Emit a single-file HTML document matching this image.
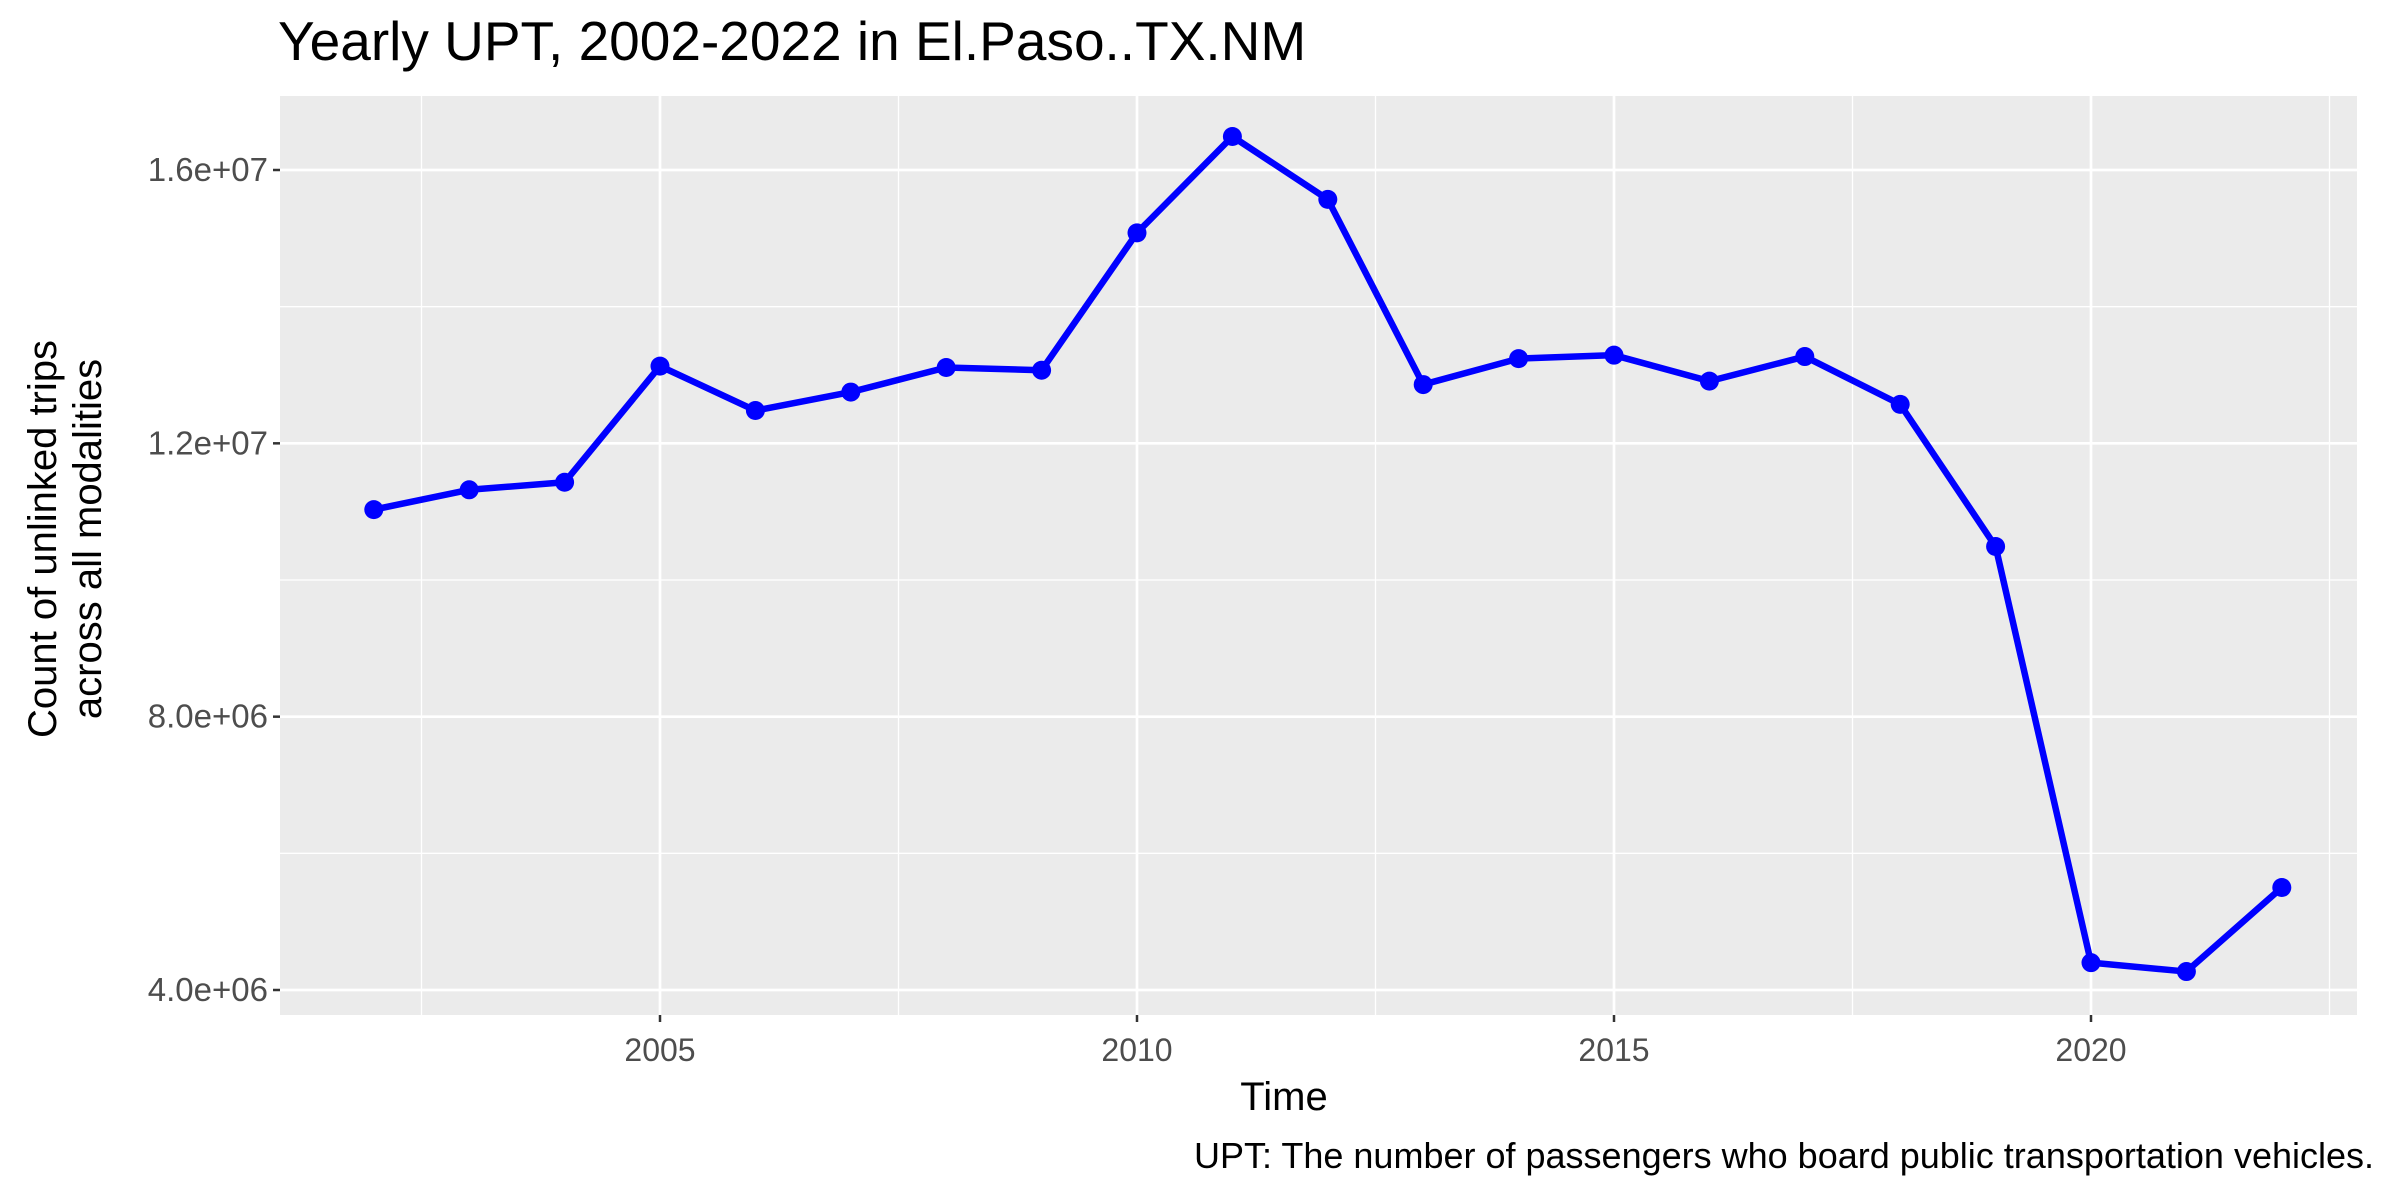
<!DOCTYPE html>
<html><head><meta charset="utf-8"><style>
html,body{margin:0;padding:0;background:#fff;}
svg{display:block;font-family:"Liberation Sans",Arial,sans-serif;}
</style></head><body>
<svg id="chart" width="2400" height="1200" viewBox="0 0 2400 1200">
<text x="278" y="60" font-size="55" fill="#000">Yearly UPT, 2002-2022 in El.Paso..TX.NM</text>
<rect x="280" y="96" width="2077" height="919" fill="#ebebeb"/>
<g id="grid"></g>
<g id="series"></g>
<g id="axes"></g>
<text x="1284" y="1110" font-size="40" text-anchor="middle" fill="#000">Time</text>
<text transform="translate(56,539) rotate(-90)" font-size="40" text-anchor="middle" fill="#000"><tspan x="0" dy="0">Count of unlinked trips</tspan><tspan x="0" dy="45">across all modalities</tspan></text>
<text x="2374" y="1168" font-size="36" text-anchor="end" fill="#000">UPT: The number of passengers who board public transportation vehicles.</text>
</svg>
<script>
const years=[2002,2003,2004,2005,2006,2007,2008,2009,2010,2011,2012,2013,2014,2015,2016,2017,2018,2019,2020,2021,2022];
const upt=[11.03e6,11.32e6,11.43e6,13.13e6,12.48e6,12.75e6,13.11e6,13.07e6,15.08e6,16.49e6,15.57e6,12.86e6,13.24e6,13.29e6,12.91e6,13.27e6,12.57e6,10.49e6,4.40e6,4.27e6,5.50e6];
const xTicks=[2005,2010,2015,2020];
const xMinor=[2002.5,2007.5,2012.5,2017.5,2022.5];
const yTicks=[4e6,8e6,12e6,16e6];
const yTickLabels=["4.0e+06","8.0e+06","1.2e+07","1.6e+07"];
const yMinor=[6e6,10e6,14e6];
const NS="http://www.w3.org/2000/svg";
const X0=280,X1=2357,Y0=96,Y1=1015;
function sx(v){return 660+(v-2005)*(2091-660)/15;}
function sy(v){return 990-(v-4e6)*(990-170)/12e6;}
function mk(tag,attrs,parent){const e=document.createElementNS(NS,tag);for(const k in attrs)e.setAttribute(k,attrs[k]);parent.appendChild(e);return e;}
const grid=document.getElementById('grid'),axes=document.getElementById('axes'),ser=document.getElementById('series');
xMinor.forEach(v=>{const l=mk('line',{x1:sx(v),x2:sx(v),y1:Y0,y2:Y1,stroke:'#fff','stroke-width':1.3},grid);
});
yMinor.forEach(v=>{const l=mk('line',{x1:X0,x2:X1,y1:sy(v),y2:sy(v),stroke:'#fff','stroke-width':1.3},grid);
});
xTicks.forEach(v=>{const l=mk('line',{x1:sx(v),x2:sx(v),y1:Y0,y2:Y1,stroke:'#fff','stroke-width':2.7},grid);

const t=mk('line',{x1:sx(v),x2:sx(v),y1:Y1,y2:Y1+7,stroke:'#333','stroke-width':2.5},axes);

const tx=mk('text',{x:sx(v),y:Y1+46,'font-size':32,'text-anchor':'middle',fill:'#4d4d4d'},axes);tx.textContent=v;
});
yTicks.forEach((v,i)=>{const l=mk('line',{x1:X0,x2:X1,y1:sy(v),y2:sy(v),stroke:'#fff','stroke-width':2.7},grid);

const t=mk('line',{x1:X0-7,x2:X0,y1:sy(v),y2:sy(v),stroke:'#333','stroke-width':2.5},axes);

const tx=mk('text',{x:X0-12,y:sy(v)+11,'font-size':33,'text-anchor':'end',fill:'#4d4d4d'},axes);tx.textContent=yTickLabels[i];
});
const pts=years.map((y,i)=>sx(y)+','+sy(upt[i])).join(' ');
const pl=mk('polyline',{points:pts,fill:'none',stroke:'#0000ff','stroke-width':6.5,'stroke-linejoin':'round'},ser);

years.forEach((y,i)=>{const c=mk('circle',{cx:sx(y),cy:sy(upt[i]),r:9.5,fill:'#0000ff'},ser);
});
</script>
</body></html>
